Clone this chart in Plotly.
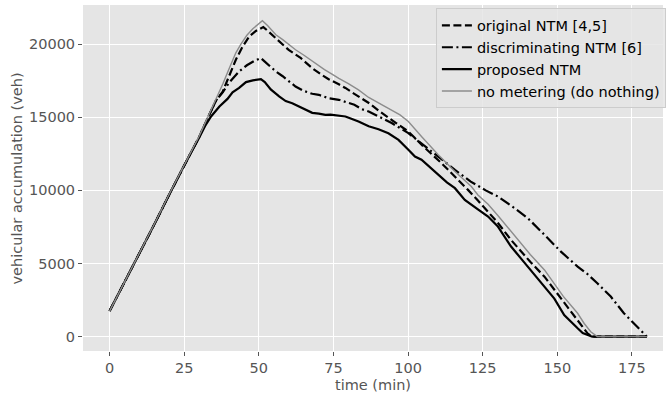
import plotly.graph_objects as go

# ---- data (time in min, accumulation in veh) ----
t_original = [0, 5, 10, 15, 20, 25, 30, 33, 35.7, 37.9, 40, 42.3, 44.5, 46.8, 49, 51.5, 53, 56.8, 60, 64,
              67.9, 71, 73.4, 76.8, 79, 82, 84.5, 87, 90.1, 93.4, 96, 100.1, 105.7, 111.2, 116.8, 120, 123.4,
              127, 130, 134.5, 138, 141, 145.7, 149, 152, 154.5, 156.8, 158.5, 160.1, 161.7, 170, 180]
v_original = [1750, 3700, 5620, 7680, 9720, 11720, 13650, 15000, 16150, 16750, 17800, 18930, 19800, 20520, 20900,
              21160, 20900, 20200, 19600, 19050, 18350, 17900, 17600, 17250, 17000, 16600, 16300, 15950, 15450,
              15000, 14600, 14020, 12890, 11860, 10720, 10050, 9300, 8500, 7800, 6610, 5800, 5100, 4100, 3200,
              2400, 1750, 1140, 600, 230, 0, 0, 0]

t_discrim = [0, 5, 10, 15, 20, 25, 30, 33, 35.7, 37.9, 40, 43.4, 46, 48.5, 50.7, 52, 54, 55.7, 58, 60, 62.3,
             65, 67.9, 70.1, 73.4, 76.8, 79, 82, 84.5, 86.8, 90.1, 94.5, 100.1, 105, 110.1, 115.7, 121, 126,
             130.1, 135.7, 140.1, 145.7, 151.2, 156.8, 160, 163.4, 167.9, 172.3, 176, 180]
v_discrim = [1750, 3700, 5620, 7680, 9720, 11720, 13650, 15000, 16150, 16700, 17350, 18130, 18550, 18850, 19040,
             18800, 18400, 18130, 17800, 17450, 17100, 16800, 16600, 16530, 16300, 16190, 16050, 15850, 15550,
             15390, 15050, 14600, 13910, 13100, 12310, 11400, 10600, 10000, 9580, 8780, 8100, 6960, 5810,
             4790, 4300, 3650, 2740, 1600, 800, 0]

t_proposed = [0, 5, 10, 15, 20, 25, 30, 32, 34, 36.8, 39.5, 41.2, 43.4, 45.7, 48, 50.7, 52, 54, 56.8, 59,
              61.2, 64, 67.9, 70.1, 72.3, 74, 76.8, 79, 81, 83.4, 86.8, 90.1, 93.4, 96.8, 100.1, 102.3, 104.5,
              107, 110.1, 113, 115.7, 119, 123.4, 126.8, 130, 134.5, 138, 142, 145.7, 149, 152.3, 154.5, 156.8,
              158.5, 160.1, 161.7, 170, 180]
v_proposed = [1750, 3700, 5620, 7680, 9720, 11720, 13600, 14400, 15050, 15730, 16250, 16700, 17000, 17400, 17520,
              17600, 17400, 16900, 16420, 16100, 15960, 15700, 15300, 15250, 15160, 15180, 15100, 15050, 14900,
              14710, 14380, 14180, 13900, 13450, 12770, 12310, 12090, 11650, 11060, 10550, 10150, 9350, 8700,
              8210, 7550, 6160, 5300, 4320, 3420, 2600, 1480, 1000, 570, 250, 110, 0, 0, 0]

t_nometer = [0, 5, 10, 15, 20, 25, 30, 33, 35.7, 36.8, 38, 40, 42.3, 44, 46, 48, 50, 51.2, 53, 55.7, 58, 60,
             62.3, 65, 67.9, 70, 72, 74.5, 76.8, 80, 83.4, 86.8, 90.1, 93.4, 97.3, 100.1, 104.5, 110.1, 115.7,
             121.2, 123.4, 126.8, 130, 134.5, 138, 141, 145.7, 149, 152, 156.8, 159, 161.2, 163.4, 170, 180]
v_nometer = [1750, 3700, 5650, 7700, 9750, 11750, 13700, 15050, 16250, 16650, 17300, 18300, 19400, 20000, 20600,
             21050, 21400, 21600, 21250, 20640, 20300, 19950, 19610, 19250, 18810, 18500, 18250, 17950, 17650,
             17300, 16870, 16350, 15950, 15600, 15160, 14710, 13680, 12430, 11290, 10260, 9690, 9050, 8300,
             7180, 6350, 5600, 4560, 3600, 2750, 1600, 900, 340, 0, 0, 0]

series_names = ["original NTM [4,5]", "discriminating NTM [6]", "proposed NTM", "no metering (do nothing)"]
x_ticks = [0, 25, 50, 75, 100, 125, 150, 175]
y_ticks = [0, 5000, 10000, 15000, 20000]
x_title = "time (min)"
y_title = "vehicular accumulation (veh)"

FONT = "DejaVu Sans"
GREY_TXT = "#555555"
FS = 14.5

fig = go.Figure()
styles = [
    dict(color="black", width=2.2, dash="8px,3.5px"),
    dict(color="black", width=2.2, dash="11px,3.5px,2px,3.5px"),
    dict(color="black", width=2.2, dash="solid"),
    dict(color="#8c8c8c", width=1.4, dash="solid"),
]
data = [(t_original, v_original), (t_discrim, v_discrim), (t_proposed, v_proposed), (t_nometer, v_nometer)]
for (tx, vy), name, st in zip(data, series_names, styles):
    fig.add_trace(go.Scatter(x=tx, y=vy, mode="lines", name=name, line=st))

fig.update_layout(
    width=670, height=394,
    margin=dict(l=83, r=4, t=5, b=43),
    paper_bgcolor="white",
    plot_bgcolor="#E5E5E5",
    font=dict(family=FONT, size=FS, color=GREY_TXT),
    showlegend=True,
    legend=dict(
        x=1.005, y=0.99, xanchor="right", yanchor="top",
        bgcolor="rgba(229,229,229,0.85)", bordercolor="#cccccc", borderwidth=1,
        font=dict(family=FONT, size=FS, color="black"),
        itemwidth=30,
    ),
    annotations=[
        dict(text=x_title, xref="paper", yref="paper", x=0.5, y=-0.07, xanchor="center", yanchor="top",
             showarrow=False, font=dict(family=FONT, size=FS, color=GREY_TXT)),
        dict(text=y_title, xref="paper", yref="paper", x=-0.113, y=0.5, xanchor="center", yanchor="middle",
             textangle=-90, showarrow=False, font=dict(family=FONT, size=FS, color=GREY_TXT)),
    ],
)
fig.update_xaxes(
    range=[-8.9, 185.4], tickvals=x_ticks, ticktext=[str(v) for v in x_ticks],
    showgrid=True, gridcolor="white", gridwidth=1, zeroline=False,
    ticks="outside", ticklen=4, tickcolor=GREY_TXT, tickwidth=1,
    showline=False, automargin=False,
    tickfont=dict(size=FS, color=GREY_TXT),
)
fig.update_yaxes(
    range=[-980, 22670], tickvals=y_ticks, ticktext=[str(v) for v in y_ticks],
    showgrid=True, gridcolor="white", gridwidth=1, zeroline=False,
    ticks="outside", ticklen=4, tickcolor=GREY_TXT, tickwidth=1,
    showline=False, automargin=False,
    tickfont=dict(size=FS, color=GREY_TXT),
)

fig.write_html("out.html", config={"displayModeBar": False},
               post_script="document.body.style.margin='0';")
